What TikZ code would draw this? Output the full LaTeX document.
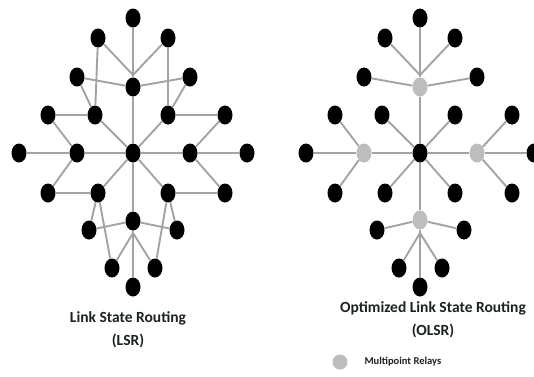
\documentclass[tikz,border=0pt]{standalone}
\usepackage{fontspec}
\setmainfont{Carlito}
\usepackage{xcolor}
\usepackage{tikz}
\usetikzlibrary{shapes,positioning}

\definecolor{linkgray}{HTML}{A3A3A3}
\definecolor{relaygray}{HTML}{BDBDBD}
\definecolor{captext}{HTML}{1C2121}

\begin{document}
\begin{tikzpicture}[
    x=1pt, y=-1pt,
    peer/.style={ellipse, fill=black, minimum width=15pt, minimum height=19pt, inner sep=0pt},
    mpr/.style={ellipse, fill=relaygray, minimum width=15pt, minimum height=19pt, inner sep=0pt},
    link/.style={draw=linkgray, line width=1.9pt},
    caption/.style={align=center, text=captext, font=\fontsize{15.5}{23}\selectfont\bfseries}
]
\useasboundingbox (0,0) rectangle (534,376);

% link state routing
\node[peer] (lTop) at (133,18) {};
\node[peer] (lUL) at (98,38) {};
\node[peer] (lUR) at (168,38) {};
\node[peer] (lML) at (77,77) {};
\node[peer] (lHub1) at (133,87) {};
\node[peer] (lMR) at (190,77) {};
\node[peer] (lA) at (48,115) {};
\node[peer] (lB) at (95,115) {};
\node[peer] (lC) at (168,115) {};
\node[peer] (lD) at (225,115) {};
\node[peer] (lW) at (19,153) {};
\node[peer] (lWi) at (77,153) {};
\node[peer] (lc) at (133,153) {};
\node[peer] (lEi) at (190,153) {};
\node[peer] (lE) at (247,153) {};
\node[peer] (lE1) at (48,193) {};
\node[peer] (lE2) at (98,193) {};
\node[peer] (lE3) at (168,193) {};
\node[peer] (lE4) at (225,193) {};
\node[peer] (lF1) at (89,230) {};
\node[peer] (lHub2) at (133,221) {};
\node[peer] (lF2) at (177,230) {};
\node[peer] (lG1) at (112,268) {};
\node[peer] (lG2) at (155,268) {};
\node[peer] (lBot) at (133,287) {};
\coordinate (lJ1) at (133,75);
\coordinate (lJ2) at (133,233);

\draw[link] (lTop) -- (lHub1) (lHub1) -- (lc) (lc) -- (lHub2) (lHub2) -- (lBot);
\draw[link] (lUL) -- (lJ1) (lUR) -- (lJ1) (lUL) -- (lB) (lUR) -- (lC);
\draw[link] (lML) -- (lHub1) (lMR) -- (lHub1) (lML) -- (lB) (lMR) -- (lC);
\draw[link] (lA) -- (lB) (lC) -- (lD) (lB) -- (lc) (lC) -- (lc);
\draw[link] (lA) -- (lWi) (lD) -- (lEi);
\draw[link] (lW) -- (lWi) (lWi) -- (lc) (lc) -- (lEi) (lEi) -- (lE);
\draw[link] (lWi) -- (lE1) (lEi) -- (lE4) (lE1) -- (lE2) (lE3) -- (lE4);
\draw[link] (lE2) -- (lc) (lE3) -- (lc) (lE2) -- (lF1) (lE3) -- (lF2);
\draw[link] (lF1) -- (lHub2) (lF2) -- (lHub2) (lE2) -- (lG1) (lE3) -- (lG2);
\draw[link] (lG1) -- (lJ2) (lG2) -- (lJ2);

% optimized link state routing
\node[peer] (rTop) at (420,18) {};
\node[peer] (rUL) at (385,38) {};
\node[peer] (rUR) at (455,38) {};
\node[peer] (rML) at (364,77) {};
\node[mpr] (rN) at (420,87) {};
\node[peer] (rMR) at (477,77) {};
\node[peer] (rA) at (335,115) {};
\node[peer] (rB) at (382,115) {};
\node[peer] (rC) at (455,115) {};
\node[peer] (rD) at (512,115) {};
\node[peer] (rW) at (306,153) {};
\node[mpr] (rWg) at (364,153) {};
\node[peer] (rc) at (420,153) {};
\node[mpr] (rEg) at (477,153) {};
\node[peer] (rE) at (534,153) {};
\node[peer] (rE1) at (335,193) {};
\node[peer] (rE2) at (385,193) {};
\node[peer] (rE3) at (455,193) {};
\node[peer] (rE4) at (512,193) {};
\node[peer] (rF1) at (377,230) {};
\node[mpr] (rS) at (420,220) {};
\node[peer] (rF2) at (464,230) {};
\node[peer] (rG1) at (399,268) {};
\node[peer] (rG2) at (442,268) {};
\node[peer] (rBot) at (420,287) {};
\coordinate (rJ1) at (420,75);
\coordinate (rJ2) at (420,233);

\draw[link] (rTop) -- (rN) (rN) -- (rc) (rc) -- (rS) (rS) -- (rBot);
\draw[link] (rUL) -- (rJ1) (rUR) -- (rJ1) (rML) -- (rN) (rMR) -- (rN);
\draw[link] (rW) -- (rWg) (rWg) -- (rc) (rc) -- (rEg) (rEg) -- (rE);
\draw[link] (rA) -- (rWg) (rE1) -- (rWg) (rD) -- (rEg) (rE4) -- (rEg);
\draw[link] (rB) -- (rc) (rC) -- (rc) (rE2) -- (rc) (rE3) -- (rc);
\draw[link] (rF1) -- (rS) (rF2) -- (rS) (rG1) -- (rJ2) (rG2) -- (rJ2);

\node[caption] (lsrName) at (128,329.5) {Link State Routing\\(LSR)};
\node[caption] (olsrName) at (433,320) {Optimized Link State Routing\\(OLSR)};

\node[circle, fill=relaygray, minimum size=15pt, inner sep=0pt] (relayKey) at (340,362) {};
\node[anchor=west, text=captext, font=\fontsize{10.5}{12}\selectfont\bfseries] (relayText) at (361,362) {Multipoint Relays};

\end{tikzpicture}
\end{document}
